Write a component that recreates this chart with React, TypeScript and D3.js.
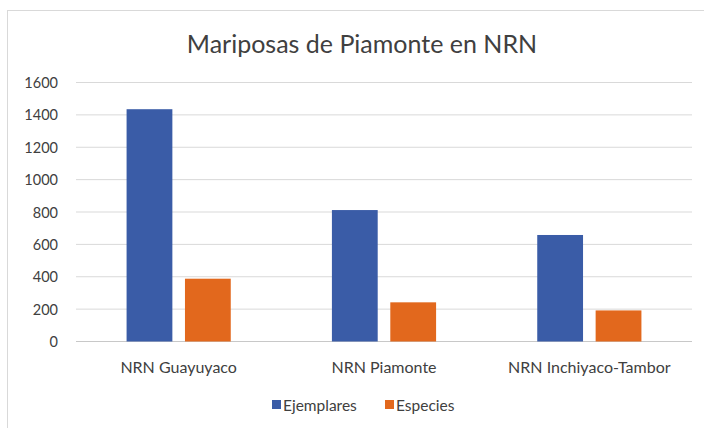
import React from "react";
import * as d3 from "d3";

const categories = ["NRN Guayuyaco", "NRN Piamonte", "NRN Inchiyaco-Tambor"];
const seriesNames = ["Ejemplares", "Especies"];
const ejemplares = [1435, 812, 658];
const especies = [388, 242, 192];
const yTicks = [0, 200, 400, 600, 800, 1000, 1200, 1400, 1600];
const colors = ["#3A5CA7", "#E2681D"];

const W = 704, H = 428;
const font = "Lato, 'Open Sans', sans-serif";

export default function App() {
  const x = d3.scaleBand<string>().domain(categories).range([76, 692]);
  const y = d3.scaleLinear().domain([0, 1600]).range([341.5, 82.5]);
  const bw = x.bandwidth() * 0.223;
  const gap = 12.6;
  const series = [ejemplares, especies];
  const legendX = [272, 385];
  return (
    <svg width={W} height={H} style={{ position: "absolute", left: 0, top: 0 }}>
      <rect x={0} y={0} width={W} height={H} fill="#fff" />
      <rect x={7.5} y={10.5} width={W} height={H} fill="none" stroke="#d9d9d9" />
      <text x={362} y={53} textAnchor="middle" fontFamily={font} fontSize={25} fill="#404040">
        Mariposas de Piamonte en NRN
      </text>
      {yTicks.map((t) => (
        <g key={t}>
          <line x1={76} x2={692} y1={y(t)} y2={y(t)} stroke={t === 0 ? "#c8c8c8" : "#d9d9d9"} strokeWidth={1} />
          <text x={58} y={y(t) + 5.5} textAnchor="end" fontFamily={font} fontSize={14.5} fill="#404040">
            {t}
          </text>
        </g>
      ))}
      {categories.map((c, i) => {
        const cx = (x(c) as number) + x.bandwidth() / 2;
        return (
          <g key={c}>
            {series.map((s, j) => {
              const bx = j === 0 ? cx - gap / 2 - bw : cx + gap / 2;
              return (
                <rect key={j} x={bx} y={y(s[i])} width={bw} height={y(0) - y(s[i])} fill={colors[j]} />
              );
            })}
            <text x={cx} y={372.5} textAnchor="middle" fontFamily={font} fontSize={16} fill="#404040">
              {c}
            </text>
          </g>
        );
      })}
      {seriesNames.map((n, j) => {
        const lx = legendX[j];
        return (
          <g key={n}>
            <rect x={lx} y={400} width={9} height={9} fill={colors[j]} />
            <text x={lx + 11} y={411} fontFamily={font} fontSize={15.5} fill="#404040">
              {n}
            </text>
          </g>
        );
      })}
    </svg>
  );
}
